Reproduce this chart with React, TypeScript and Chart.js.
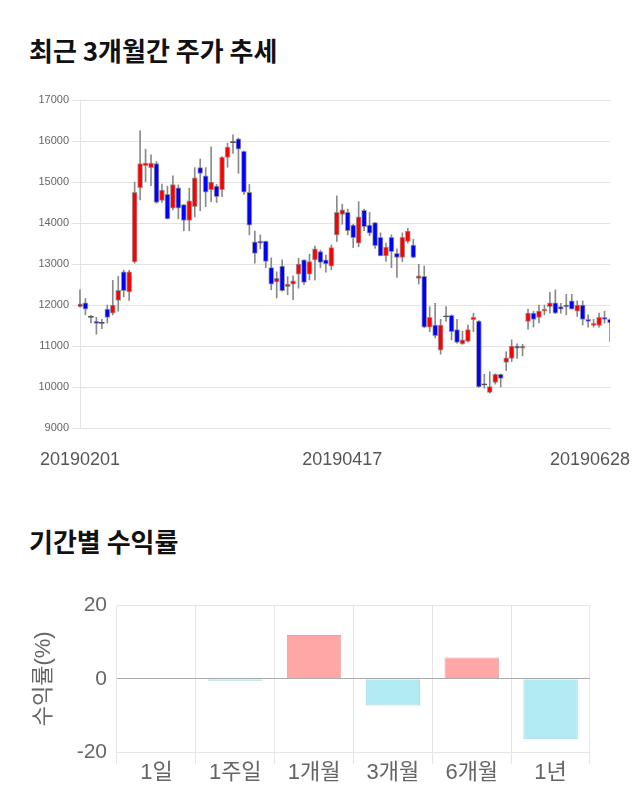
import React, { useEffect, useRef } from 'react';
import { Chart, registerables } from 'chart.js';

Chart.register(...registerables);

// ---- Candlestick data (2019-02-01 ~ 2019-06-28) ----
const dates = [
  '20190201', '20190207', '20190208', '20190211', '20190212', '20190213', '20190214', '20190215',
  '20190218', '20190219', '20190220', '20190221', '20190222', '20190225', '20190226', '20190227', '20190228',
  '20190304', '20190305', '20190306', '20190307', '20190308', '20190311', '20190312', '20190313', '20190314', '20190315',
  '20190318', '20190319', '20190320', '20190321', '20190322', '20190325', '20190326', '20190327', '20190328', '20190329',
  '20190401', '20190402', '20190403', '20190404', '20190405', '20190408', '20190409', '20190410', '20190411', '20190415',
  '20190416', '20190417', '20190418', '20190419', '20190422', '20190423', '20190424', '20190425', '20190426',
  '20190429', '20190430', '20190502', '20190503', '20190507', '20190508', '20190509', '20190510',
  '20190513', '20190514', '20190515', '20190516', '20190517', '20190520', '20190521', '20190522', '20190523', '20190524',
  '20190527', '20190528', '20190529', '20190530', '20190531', '20190603', '20190604', '20190605', '20190607',
  '20190610', '20190611', '20190612', '20190613', '20190614', '20190617', '20190618', '20190619', '20190620', '20190621',
  '20190624', '20190625', '20190626', '20190627', '20190628',
];

const opens = [
  11960, 12050, 11700, 11600, 11550, 11900, 11800, 12110, 12810, 12320,
  13050, 14860, 15400, 15350, 15450, 14550, 14700, 14360, 14860, 14450,
  14060, 14400, 15350, 15150, 14810, 14900, 14810, 15600, 15960, 16050,
  15750, 14750, 13540, 13560, 13560, 12910, 12560, 12950, 12450, 12510,
  12750, 13100, 12750, 13100, 13300, 13100, 12950, 13710, 14210, 14260,
  13950, 13510, 14310, 13950, 14010, 13650, 13200, 13650, 13260, 13160,
  13550, 13460, 12650, 12700, 11460, 11510, 10900, 11710, 11750, 11400,
  11050, 11110, 11640, 11610, 10050, 9870, 10110, 10310, 10600, 10700,
  11000, 10950, 11600, 11800, 11700, 11850, 11960, 12050, 11960, 12000,
  12100, 11850, 12000, 11650, 11500, 11500, 11700, 11650,
];

const highs = [
  12370, 12160, 11750, 11700, 11650, 12000, 12600, 12700, 12850, 12850,
  15000, 16250, 15800, 15660, 15500, 14950, 14900, 15150, 14930, 14450,
  14850, 15350, 15560, 15350, 15860, 14940, 15620, 15950, 16150, 16070,
  15760, 14940, 13800, 13710, 13560, 13150, 12810, 13100, 12690, 12710,
  13140, 13100, 13240, 13440, 13340, 13220, 13460, 14660, 14460, 14340,
  13970, 14520, 14340, 14260, 14010, 13760, 13510, 13710, 13370, 13760,
  13870, 13600, 12990, 12950, 11960, 12040, 11650, 11960, 11760, 11650,
  11360, 11510, 11800, 11620, 10310, 10370, 10320, 10320, 10860, 11150,
  11050, 11040, 11900, 11850, 12000, 12000, 12310, 12370, 12040, 12260,
  12260, 12100, 12100, 11760, 11650, 11800, 11850, 11660,
];

const lows = [
  11950, 11760, 11560, 11290, 11420, 11560, 11760, 11850, 12200, 12110,
  13020, 14560, 15010, 14910, 14480, 14500, 14100, 14320, 14100, 13810,
  13810, 14150, 14300, 14400, 14520, 14500, 14640, 15360, 15700, 15210,
  14700, 13710, 13020, 13370, 12910, 12370, 12170, 12340, 12250, 12130,
  12410, 12500, 12610, 12610, 12910, 12800, 12860, 13550, 13970, 13710,
  13400, 13420, 13810, 13690, 13380, 13200, 13060, 12910, 12670, 13060,
  13510, 13150, 12510, 11450, 11350, 11200, 10800, 11600, 11150, 11070,
  11040, 11100, 11350, 9990, 9970, 9850, 10070, 10000, 10400, 10620,
  10700, 10760, 11410, 11460, 11560, 11760, 11800, 11790, 11800, 11760,
  11900, 11720, 11510, 11460, 11460, 11460, 11560, 11110,
];

const closes = [
  12030, 11900, 11700, 11550, 11550, 11700, 12000, 12360, 12350, 12810,
  14750, 15450, 15460, 15460, 14500, 14800, 14100, 14940, 14360, 14060,
  14540, 15100, 15210, 14750, 15000, 14640, 15600, 15850, 15960, 15800,
  14750, 13950, 13260, 13510, 13060, 12510, 12650, 12350, 12510, 12590,
  13000, 12550, 13060, 13370, 13040, 13000, 13400, 14260, 14320, 13810,
  13640, 14150, 13910, 13750, 13450, 13200, 13410, 13300, 13160, 13650,
  13800, 13160, 12710, 11460, 11700, 11250, 11510, 11710, 11350, 11090,
  11150, 11400, 11700, 10000, 10050, 10010, 10310, 10210, 10710, 11000,
  10950, 11000, 11800, 11650, 11850, 11900, 12050, 11800, 11900, 11960,
  11900, 12000, 11650, 11600, 11550, 11700, 11650, 11560,
];

const shownDates = ['20190201', '20190417', '20190628'];
const priceMin = 9000;
const priceMax = 17000;
const priceStep = 1000;

// ---- Period returns ----
const periods = ['1일', '1주일', '1개월', '3개월', '6개월', '1년'];
const returns = [0, -0.5, 12.0, -7.3, 5.8, -16.5];
const returnMin = -20;
const returnMax = 20;
const returnStep = 20;

const FONT = "'Liberation Sans', Arial, 'Noto Sans CJK KR', sans-serif";
const KFONT = "'Noto Sans CJK KR', 'Noto Sans', sans-serif";

function CandleChart() {
  const ref = useRef<HTMLCanvasElement | null>(null);
  useEffect(() => {
    if (!ref.current) return;
    const up = '#ff0000';
    const down = '#0000ff';
    const flat = '#444444';
    const bodyColors = opens.map((o, i) => (closes[i] > o ? up : closes[i] < o ? down : flat));
    const bodyBorders = opens.map((o, i) =>
      closes[i] === o ? flat : 'rgba(110,110,110,0.65)'
    );
    const last = dates[dates.length - 1];
    const chart = new Chart(ref.current, {
      type: 'bar',
      data: {
        labels: dates,
        datasets: [
          {
            label: 'body',
            data: opens.map((o, i) => [o, closes[i]]) as any,
            backgroundColor: bodyColors,
            borderColor: bodyBorders,
            borderWidth: 1,
            borderSkipped: false,
            barThickness: 5,
            minBarLength: 1,
            grouped: false,
            order: 1,
            clip: { left: 2, right: 0, top: 5, bottom: 5 } as any,
          } as any,
          {
            label: 'wick',
            data: lows.map((l, i) => [l, highs[i]]) as any,
            backgroundColor: '#8a8a8a',
            borderWidth: 0,
            barThickness: 1,
            grouped: false,
            order: 2,
            clip: { left: 2, right: 0, top: 5, bottom: 5 } as any,
          } as any,
        ],
      },
      options: {
        animation: false,
        responsive: false,
        maintainAspectRatio: false,
        layout: { padding: { top: 10, right: 22, left: 0, bottom: 0 } },
        plugins: { legend: { display: false }, tooltip: { enabled: false } },
        scales: {
          x: {
            type: 'category',
            offset: false,
            grid: { display: false, drawTicks: false },
            border: { display: false },
            ticks: {
              autoSkip: false,
              maxRotation: 0,
              minRotation: 0,
              padding: 21,
              color: '#555',
              font: { size: 18, family: FONT },
              callback: function (this: any, v: any) {
                const l = this.getLabelForValue(v);
                return l === last ? l + '        ' : l;
              },
            },
            afterBuildTicks: (s: any) => {
              s.ticks = s.ticks.filter((t: any) => shownDates.includes(dates[t.value]));
            },
            afterFit: (s: any) => {
              s.height = 52;
              s.paddingLeft = 0;
              s.paddingRight = 0;
            },
          },
          y: {
            min: priceMin,
            max: priceMax,
            ticks: {
              stepSize: priceStep,
              color: '#666',
              font: { size: 11, family: FONT },
              padding: 3,
              callback: (v: any) => String(v),
            },
            grid: { color: '#e3e3e3', tickLength: 8 },
            border: { color: '#e3e3e3' },
            afterFit: (s: any) => {
              s.width = 72;
            },
          },
        },
      } as any,
    });
    return () => chart.destroy();
  }, []);
  return (
    <canvas
      ref={ref}
      width={624}
      height={390}
      style={{ position: 'absolute', left: 8, top: 90, width: 624, height: 390 }}
    />
  );
}

function ReturnChart() {
  const ref = useRef<HTMLCanvasElement | null>(null);
  useEffect(() => {
    if (!ref.current) return;
    const chart = new Chart(ref.current, {
      type: 'bar',
      data: {
        labels: periods,
        datasets: [
          {
            data: returns,
            backgroundColor: returns.map((v) => (v >= 0 ? '#ffa6a6' : '#b2ebf2')),
            borderColor: returns.map((v) => (v >= 0 ? '#eba0a0' : '#9fd6e0')),
            borderWidth: 1,
            barPercentage: 0.69,
            categoryPercentage: 1,
          },
        ],
      },
      options: {
        animation: false,
        responsive: false,
        maintainAspectRatio: false,
        layout: { padding: { top: 20, right: 42, left: 21, bottom: 0 } },
        plugins: { legend: { display: false }, tooltip: { enabled: false } },
        scales: {
          x: {
            grid: { color: '#e6e6e6', tickLength: 12, offset: true },
            border: { display: false },
            ticks: { color: '#666', font: { size: 22, family: FONT }, padding: -4 },
            afterFit: (s: any) => {
              s.height = 46;
            },
          },
          y: {
            min: returnMin,
            max: returnMax,
            ticks: { stepSize: returnStep, color: '#666', font: { size: 21, family: FONT }, padding: 10 },
            grid: {
              drawTicks: false,
              color: (c: any) => (c.tick && c.tick.value === 0 ? '#aaaaaa' : '#e6e6e6'),
            },
            border: { display: false },
            title: { display: true, text: '수익률(%)', color: '#666', font: { size: 22, family: FONT }, padding: { top: 2, bottom: 4 } },
            afterFit: (s: any) => {
              s.width = 88;
            },
          },
        },
      } as any,
    });
    return () => chart.destroy();
  }, []);
  return (
    <canvas
      ref={ref}
      width={624}
      height={215}
      style={{ position: 'absolute', left: 8, top: 583, width: 624, height: 215 }}
    />
  );
}

export default function App() {
  const titleStyle: React.CSSProperties = {
    position: 'absolute',
    left: 29,
    fontFamily: KFONT,
    fontWeight: 700,
    fontSize: 26,
    lineHeight: '26px',
    color: '#111',
    whiteSpace: 'nowrap',
    margin: 0,
  };
  return (
    <div style={{ position: 'absolute', left: 0, top: 0, width: 640, height: 810, background: '#fff' }}>
      <div style={{ ...titleStyle, top: 37 }}>최근 3개월간 주가 추세</div>
      <CandleChart />
      <div style={{ ...titleStyle, top: 528 }}>기간별 수익률</div>
      <ReturnChart />
    </div>
  );
}
